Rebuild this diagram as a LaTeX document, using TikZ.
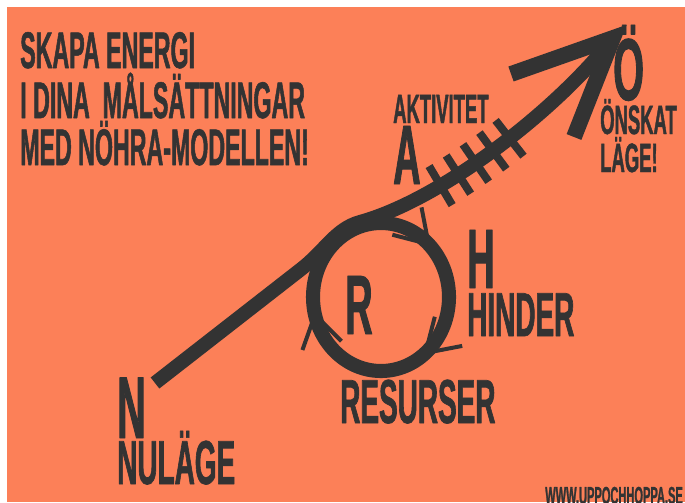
\documentclass[tikz,border=0pt]{standalone}
\usepackage{fontspec}
\newfontfamily\bebas{Liberation Sans}[FakeStretch=0.45,FakeBold=1]
\usetikzlibrary{arrows.meta,calc,positioning,decorations.markings}
\definecolor{nohrabg}{RGB}{252,128,88}
\definecolor{nohraink}{RGB}{51,51,51}
\newcommand{\storlek}[1]{\fontsize{#1}{#1}\selectfont}

\begin{document}
\begin{tikzpicture}[x=0.03cm,y=-0.03cm,line cap=butt,line join=round,
  txt/.style={inner sep=0pt,anchor=base west,text=nohraink},
  rubrik/.style={txt,font=\bebas\bfseries\storlek{44pt}},
  stor/.style={txt,font=\bebas\bfseries\storlek{72pt}},
  ord/.style={txt,font=\bebas\bfseries\storlek{53pt}},
  liten/.style={txt,font=\bebas\bfseries\storlek{35pt}},
  shaft/.style={draw=nohraink,line width=12pt},
  hatch/.style={draw=nohraink,line width=6.8pt},
  barb/.style={draw=nohraink,line width=3.4pt,line join=miter}]
 \useasboundingbox (0,0) rectangle (685,502);
 \fill[white] (0,0) rectangle (685,502);
 \clip (0,0) rectangle (685,502);
 \fill[nohrabg] (7,7) rectangle (685,502);
 % Rubrik.
 \node[rubrik] (title1) at (20,68) {SKAPA ENERGI};
 \node[rubrik] (title2) at (20,118) {I DINA\ \ MÅLSÄTTNINGAR};
 \node[rubrik] (title3) at (20,165) {MED NÖHRA-MODELLEN!};
 % Pilen fran N till Ö.
 \coordinate (start) at (155,383);
 \coordinate (knae) at (300,270);
 \coordinate (mid) at (360,222);
 \coordinate (tip) at (613,38);
 \coordinate (armL) at (511,74);
 \coordinate (armR) at (574,137);
 \draw[shaft] (start) -- (knae) .. controls (325,251) and (335,229) .. (mid)
  .. controls (440,200) and (555,112) .. (tip);
 \draw[shaft,line width=13.5pt,line join=miter] (armL) -- (tip) -- (armR);
 \path[decorate,decoration={markings,
  mark=between positions 0.28 and 0.55 step 0.066 with
   {\draw[hatch] (0,-0.68cm) -- (0,0.68cm);}}]
  (mid) .. controls (440,200) and (555,112) .. (tip);
 % Ringen med resurser.
 \coordinate (ring) at (381,297);
 \draw[shaft] (ring) ellipse[x radius=68,y radius=74];
 \path[decorate,decoration={markings,
  mark=at position 0.14 with {\draw[barb] (-0.95cm,0.6cm) -- (0,0) -- (-0.95cm,-0.6cm);},
  mark=at position 0.46 with {\draw[barb] (-0.95cm,0.6cm) -- (0,0) -- (-0.95cm,-0.6cm);},
  mark=at position 0.87 with {\draw[barb] (-0.95cm,0.6cm) -- (0,0) -- (-0.95cm,-0.6cm);}}]
  (ring) ellipse[x radius=68,y radius=74];
 % Bokstaver och ord.
 \node[liten] (aktivitet) at (393,123) {AKTIVITET};
 \node[stor] (bokA) at (393,184) {A};
 \node[stor,font=\bebas\bfseries\storlek{75pt}] (bokOe) at (613,100) {Ö};
 \node[liten] (oenskat) at (600,134) {ÖNSKAT};
 \node[liten] (laege) at (600,172) {LÄGE!};
 \node[stor] (bokH) at (467,288) {H};
 \node[ord] (hinder) at (467,336) {HINDER};
 \node[stor] (bokR) at (345,334) {R};
 \node[ord] (resurser) at (340,423) {RESURSER};
 \node[stor,font=\bebas\bfseries\storlek{75pt}] (bokN) at (117,438) {N};
 \node[ord] (nulaege) at (117,484) {NULÄGE};
 \node[txt,font=\bebas\bfseries\storlek{21pt}] (webb) at (545,504) {WWW.UPPOCHHOPPA.SE};
\end{tikzpicture}
\end{document}
